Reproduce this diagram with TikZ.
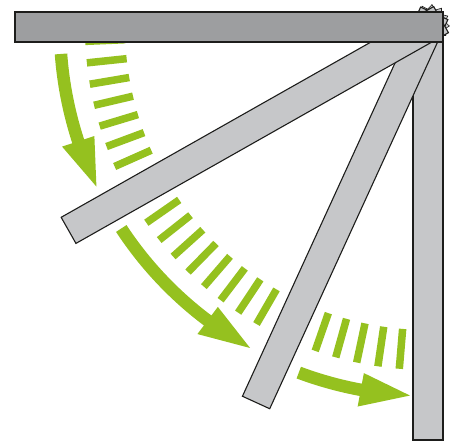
\documentclass[tikz,border=0pt]{standalone}
\definecolor{agreen}{RGB}{149,193,31}
\definecolor{bardark}{RGB}{157,158,160}
\definecolor{barlight}{RGB}{198,199,201}
\definecolor{outline}{RGB}{29,29,27}
\begin{document}
\begin{tikzpicture}[x=1pt,y=1pt,
  gdash/.style={draw=agreen,line width=7.5pt},
  garrow/.style={fill=agreen},
  barL/.style={fill=barlight,draw=outline,line width=1.1pt,line join=miter},
  barD/.style={fill=bardark,draw=outline,line width=1.1pt},
  gearst/.style={fill=barlight,draw=outline,line width=0.6pt}]
\useasboundingbox (-428,-415) rectangle (31,27);
% gear behind the pivot
\filldraw[gearst,shift={(2,3)}] (84:19.5)
  \foreach \i in {0,...,11} { -- ({84+30*\i}:19.5) -- ({99+30*\i}:15) } -- cycle;
% dashed bands
\foreach \k in {0,1,2,3,4,5,6,9,10,11,12,13,14,15,16,19,20,21,22,23} {
  \pgfmathsetmacro\a{182.4+3.6*\k}
  \draw[gdash] (\a:303) -- (\a:343);
}
% curved arrows
\fill[garrow] (184.2:361.75) arc[start angle=184.2,end angle=198.1,radius=361.75]
  -- (198.1:351) -- (205.7:368) -- (198.1:385) -- (198.1:374.25)
  arc[start angle=198.1,end angle=184.2,radius=374.25] -- cycle;
\fill[garrow] (213.3:360.75) arc[start angle=213.3,end angle=233.1,radius=360.75]
  -- (233.1:350) -- (241.0:367) -- (233.1:384) -- (233.1:373.25)
  arc[start angle=233.1,end angle=213.3,radius=373.25] -- cycle;
\fill[garrow] (249.5:362.75) arc[start angle=249.5,end angle=259.5,radius=362.75]
  -- (259.5:352) -- (267.2:369) -- (259.5:386) -- (259.5:375.25)
  arc[start angle=259.5,end angle=249.5,radius=375.25] -- cycle;
% bars, from back to front
\filldraw[barL,rotate=90] (-413,-15) rectangle (15,15);
\filldraw[barL,rotate=65.4] (-413,-15) rectangle (15,15);
\filldraw[barL,rotate=29.5] (-413,-15) rectangle (15,15);
\filldraw[barD] (-413,-15) rectangle (15,15);
\end{tikzpicture}
\end{document}
